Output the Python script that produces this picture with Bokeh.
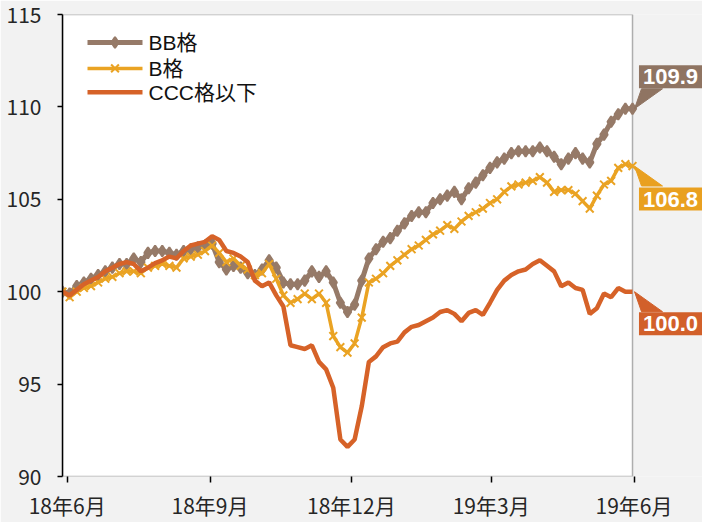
import numpy as np
import pandas as pd
from bokeh.plotting import figure
from bokeh.models import Range1d, FixedTicker, BoxAnnotation, Label
from bokeh.embed import file_html
from bokeh.resources import INLINE

# ---------------- data ----------------
start_date = "2018-05-29"
end_date = "2019-05-31"
n_points = 81

series_names = ["BB格", "B格", "CCC格以下"]

bb = [100.0, 99.9, 100.3, 100.5, 100.7, 100.9, 101.1, 101.3, 101.5, 101.5,
      101.8, 101.6, 102.1, 102.2, 102.2, 102.1, 102.0, 102.2, 102.3, 102.4,
      102.5, 102.6, 101.6, 101.2, 101.4, 101.3, 101.0, 100.9, 101.2, 101.7,
      101.3, 100.5, 100.4, 100.4, 100.6, 101.1, 100.8, 101.1, 100.5, 99.4,
      98.9, 99.3, 100.6, 101.8, 102.3, 102.7, 102.9, 103.3, 103.7, 104.1,
      104.3, 104.3, 104.8, 105.0, 105.2, 105.4, 105.0, 105.6, 105.9, 106.3,
      106.7, 107.0, 107.2, 107.5, 107.6, 107.6, 107.6, 107.8, 107.6, 107.3,
      106.9, 107.2, 107.5, 107.2, 107.0, 108.0, 108.5, 109.2, 109.6, 109.9,
      109.9]

b = [100.0, 99.7, 100.0, 100.2, 100.3, 100.5, 100.7, 100.8, 101.0, 101.1,
     101.1, 101.0, 101.3, 101.4, 101.5, 101.4, 101.3, 101.8, 101.9, 102.0,
     102.2, 102.5, 102.1, 101.6, 101.8, 101.4, 101.2, 100.9, 101.0, 101.5,
     100.7, 99.8, 99.4, 99.6, 99.9, 99.6, 99.9, 99.4, 97.6, 97.0,
     96.7, 97.2, 98.6, 100.5, 100.7, 101.0, 101.4, 101.7, 102.0, 102.3,
     102.5, 102.8, 103.1, 103.3, 103.6, 103.4, 103.8, 104.1, 104.3, 104.5,
     104.8, 105.0, 105.4, 105.7, 105.8, 105.9, 106.0, 106.2, 105.9, 105.4,
     105.5, 105.5, 105.3, 104.9, 104.5, 105.2, 105.8, 106.0, 106.7, 106.9,
     106.8]

ccc = [100.0, 99.8, 100.1, 100.4, 100.6, 100.8, 101.1, 101.3, 101.5, 101.6,
       101.5, 101.1, 101.3, 101.55, 101.7, 101.9, 101.8, 102.2, 102.5, 102.6,
       102.7, 103.0, 102.8, 102.2, 102.1, 101.9, 101.6, 100.6, 100.3, 100.5,
       99.8, 99.2, 97.1, 97.0, 96.9, 97.1, 96.2, 95.8, 94.8, 92.0,
       91.6, 92.0, 93.8, 96.2, 96.5, 97.0, 97.2, 97.3, 97.8, 98.1,
       98.2, 98.4, 98.6, 98.9, 99.0, 98.8, 98.4, 98.85, 99.0, 98.75,
       99.4, 100.1, 100.6, 100.9, 101.1, 101.2, 101.5, 101.7, 101.4, 101.1,
       100.3, 100.5, 100.2, 100.1, 98.8, 99.1, 99.9, 99.7, 100.2, 100.0,
       100.0]

tick_dates = ["2018-06-01", "2018-09-01", "2018-12-01", "2019-03-01", "2019-06-01"]
tick_labels = ["18年6月", "18年9月", "18年12月", "19年3月", "19年6月"]
y_ticks = [90, 95, 100, 105, 110, 115]

# ---------------- style ----------------
colors = ["#967A68", "#EAA323", "#D66228"]
box_colors = ["#8F7462", "#E9A020", "#D2602A"]
line_widths = [5, 3.5, 4.5]
markers = ["diamond", "x", None]
marker_sizes = [11, 11, 0]
label_dy = [32, -33, -32]          # px offset of value boxes (up positive)
label_dx = 38
W, H = 702, 522
B_LEFT, B_RIGHT, B_TOP, B_BOTTOM = 62, 0, 14, 45
PLOT_W = 570                       # px width of the white plotting area
FRAME_W = W - B_LEFT - B_RIGHT
FRAME_H = H - B_TOP - B_BOTTOM
AX_FONT = '"Liberation Sans Narrow", "Noto Sans CJK JP", sans-serif'
LG_FONT = '"Liberation Sans", "Noto Sans CJK JP", sans-serif'
NUM_FONT = '"Liberation Sans", sans-serif'
TXT = "#262626"
LEG_X0, LEG_X1, LEG_TX = 25, 80, 86          # px from frame left
LEG_Y = [28, 54, 78]                          # px from frame top

dates = pd.date_range(start_date, end_date, periods=n_points)
t0 = pd.Timestamp(start_date)
days = np.array((dates - t0) / pd.Timedelta(days=1), dtype=float)
tick_days = [int((pd.Timestamp(d) - t0) / pd.Timedelta(days=1)) for d in tick_dates]

x_end = days[-1] * FRAME_W / PLOT_W
y0, y1 = 90, 115
px_day = PLOT_W / days[-1]
px_unit = FRAME_H / (y1 - y0)

p = figure(width=W, height=H, x_range=Range1d(0, x_end), y_range=Range1d(y0, y1),
           output_backend="svg", toolbar_location=None,
           min_border_left=B_LEFT, min_border_right=B_RIGHT,
           min_border_top=B_TOP, min_border_bottom=B_BOTTOM,
           background_fill_color="#F2F2F2", border_fill_color="#F2F2F2",
           outline_line_color=None)
p.grid.visible = False

# white plotting area with black frame
p.add_layout(BoxAnnotation(left=0, right=days[-1], fill_color="white", fill_alpha=1.0,
                           line_color="black", line_width=1.5, level="underlay"))

# axes
p.xaxis.ticker = FixedTicker(ticks=tick_days)
p.xaxis.major_label_overrides = {d: l for d, l in zip(tick_days, tick_labels)}
p.xaxis.axis_line_color = None
p.xaxis.major_tick_in = 0
p.xaxis.major_tick_out = 6
p.xaxis.major_tick_line_width = 1.5
p.xaxis.minor_tick_line_color = None
p.xaxis.major_label_standoff = 7

p.yaxis.ticker = FixedTicker(ticks=y_ticks)
p.yaxis.axis_line_width = 1.5
p.yaxis.major_tick_in = 0
p.yaxis.major_tick_out = 5
p.yaxis.major_tick_line_width = 1.5
p.yaxis.minor_tick_line_color = None
p.yaxis.major_label_standoff = 16

for ax in (p.xaxis, p.yaxis):
    ax.major_label_text_font = AX_FONT
    ax.major_label_text_font_size = "21px"
    ax.major_label_text_color = TXT

# series
for vals, c, lw, mk, ms in zip([bb, b, ccc], colors, line_widths, markers, marker_sizes):
    p.line(days, vals, line_width=lw, color=c)
    if mk:
        p.scatter(days, vals, marker=mk, size=ms, line_width=2, color=c)

# value boxes with pointers
for vals, bc, dy in zip([bb, b, ccc], box_colors, label_dy):
    xv, yv = days[-1], vals[-1]
    sgn = 1 if dy > 0 else -1
    xs = [xv + 2 / px_day, xv + 9 / px_day, xv + 30 / px_day]
    ys = [yv, yv + sgn * 20 / px_unit, yv + sgn * 20 / px_unit]
    p.patch(xs, ys, color=bc)
    p.add_layout(Label(x=xv, y=yv, x_offset=label_dx, y_offset=dy, text=f"{yv:.1f}",
                       text_align="center", text_baseline="middle",
                       text_color="white", text_font=NUM_FONT, text_font_style="bold",
                       text_font_size="22px", background_fill_color=bc, padding=4))

# legend (top-left, inside the plotting area)
for name, c, lw, mk, ms, ly in zip(series_names, colors, line_widths, markers,
                                   marker_sizes, LEG_Y):
    yy = y1 - ly / px_unit
    xa, xb = LEG_X0 / px_day, LEG_X1 / px_day
    p.line([xa, xb], [yy, yy], line_width=lw, color=c)
    if mk:
        p.scatter([(xa + xb) / 2], [yy], marker=mk, size=ms, line_width=2, color=c)
    p.add_layout(Label(x=LEG_TX / px_day, y=yy, text=name, text_align="left",
                       text_baseline="middle", text_font=LG_FONT,
                       text_font_size="21px", text_color="#111111"))

open("out.html", "w").write(file_html(p, INLINE))
